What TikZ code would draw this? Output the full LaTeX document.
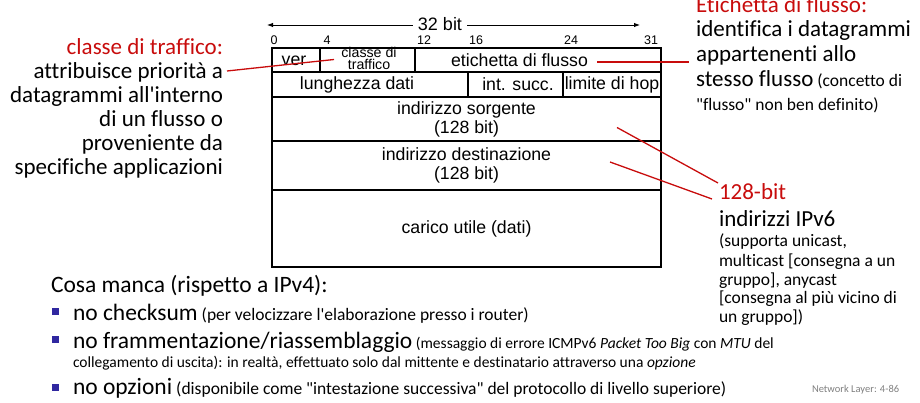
\documentclass[tikz,border=0pt]{standalone}
\usepackage{fontspec}
\newfontfamily\calfnt{Carlito}[Ligatures=NoCommon]
\newfontfamily\arifnt{Liberation Sans}
\usetikzlibrary{arrows.meta}
\definecolor{myred}{RGB}{200,12,12}
\definecolor{bulblue}{RGB}{48,40,160}
\definecolor{fgray}{RGB}{128,128,128}
\tikzset{
  txt/.style={inner sep=0pt, outer sep=0pt},
  big/.style={txt, font=\calfnt\fontsize{23}{24}\selectfont},
  mid/.style={txt, font=\calfnt\fontsize{17.5}{19}\selectfont},
  sml/.style={txt, font=\calfnt\fontsize{15.5}{18}\selectfont},
  cell/.style={draw, line width=1.5pt, inner sep=0pt, outer sep=0pt, align=center,
    font=\arifnt\fontsize{17.7}{19}\selectfont},
  celltxt/.style={txt, align=center, font=\arifnt\fontsize{17.7}{19}\selectfont},
  bitnum/.style={txt, anchor=base, font=\arifnt\fontsize{12.5}{14}\selectfont},
  redline/.style={draw=myred, line width=1.3pt},
  bulletsq/.style={fill=bulblue, draw=none, inner sep=0pt, minimum size=7pt}
}
\begin{document}
\begin{tikzpicture}[x=1pt,y=-1pt]
\useasboundingbox (0,0) rectangle (920,403);

% ---- header: 32 bit arrow and bit numbers
\coordinate (aL) at (267,25);
\coordinate (aR) at (640,25);
\draw[line width=0.9pt, {Latex[length=6pt,width=4.5pt]}-{Latex[length=6pt,width=4.5pt]}] (aL) -- (aR);
\node[txt, fill=white, inner xsep=5pt, inner ysep=1pt, font=\arifnt\fontsize{18}{20}\selectfont] (bits) at (440,24) {32 bit};
\node[bitnum] (b0) at (274,45) {0};
\node[bitnum] (b4) at (327,45) {4};
\node[bitnum] (b12) at (424,45) {12};
\node[bitnum] (b16) at (476,45) {16};
\node[bitnum] (b24) at (571,45) {24};
\node[bitnum] (b31) at (651,45) {31};

% ---- table cells
\node[cell, minimum width=48pt, minimum height=24pt] (ver) at (296,60) {};
\node[celltxt] (vertxt) at (294,60.5) {ver};
\node[cell, minimum width=95pt, minimum height=24pt] (cls) at (367.5,60) {};
\node[txt, align=center, font=\arifnt\fontsize{14.2}{12.5}\selectfont] (clstxt) at (369,58.5) {classe di\\traffico};
\node[cell, minimum width=246pt, minimum height=24pt] (eti) at (538,60) {};
\node[celltxt] (etitxt) at (519.5,60) {etichetta di flusso};
\node[cell, minimum width=196pt, minimum height=25pt] (lun) at (370,84.5) {};
\node[celltxt] (luntxt) at (357,84.5) {lunghezza dati};
\node[cell, minimum width=95pt, minimum height=25pt] (ints) at (515.5,84.5) {};
\node[celltxt] (intstxt) at (518,84.5) {int. succ.};
\node[cell, minimum width=98pt, minimum height=25pt] (lim) at (612,84.5) {limite di hop};
\node[cell, minimum width=389pt, minimum height=44pt] (src) at (466.5,119) {indirizzo sorgente\\(128 bit)};
\node[cell, minimum width=389pt, minimum height=49pt] (dst) at (466.5,165.5) {indirizzo destinazione\\(128 bit)};
\node[cell, minimum width=389pt, minimum height=77pt] (pay) at (466.5,228.5) {carico utile (dati)};

% ---- left annotation
\node[big, anchor=base east, text=myred] (L1) at (223,55) {classe di traffico:};
\node[big, anchor=base east] (L2) at (223,79) {attribuisce priorità a};
\node[big, anchor=base east] (L3) at (223,103) {datagrammi all'interno};
\node[big, anchor=base east] (L4) at (223,127) {di un flusso o};
\node[big, anchor=base east] (L5) at (223,151) {proveniente da};
\node[big, anchor=base east] (L6) at (223,175) {specifiche applicazioni};

% ---- right annotation (flow label)
\node[big, anchor=base west, text=myred] (R1) at (696,13) {Etichetta di flusso:};
\node[big, anchor=base west] (R2) at (696,37) {identifica i datagrammi};
\node[big, anchor=base west] (R3) at (696,62) {appartenenti allo};
\node[big, anchor=base west] (R4) at (696,87) {stesso flusso{\fontsize{17.5}{19}\selectfont{} (concetto di}};
\node[mid, anchor=base west] (R5) at (696,111) {"flusso" non ben definito)};

% ---- 128-bit annotation
\node[big, anchor=base west, text=myred] (B1) at (719,200) {128-bit};
\node[big, anchor=base west] (B2) at (719,226) {indirizzi IPv6};
\node[mid, anchor=base west] (B3) at (719,247) {(supporta unicast,};
\node[mid, anchor=base west] (B4) at (719,266) {multicast [consegna a un};
\node[mid, anchor=base west] (B5) at (719,285) {gruppo], anycast};
\node[mid, anchor=base west] (B6) at (719,303) {[consegna al più vicino di};
\node[mid, anchor=base west] (B7) at (719,322) {un gruppo])};

% ---- red connectors
\coordinate (clsp) at (334,59.5);
\coordinate (clsL) at (227,71);
\draw[redline] (clsL) -- (clsp);
\coordinate (etip) at (597,62);
\coordinate (etiR) at (689,62);
\draw[redline] (etip) -- (etiR);
\coordinate (srcp) at (617,127.5);
\coordinate (srcE) at (718,183);
\draw[redline] (srcp) -- (srcE);
\coordinate (dstp) at (610,162);
\coordinate (dstE) at (712,199);
\draw[redline] (dstp) -- (dstE);

% ---- bottom list
\node[txt, anchor=base west, font=\calfnt\fontsize{23.5}{25}\selectfont] (cm) at (51,292) {Cosa manca (rispetto a IPv4):};
\node[bulletsq] (s1) at (55.5,311) {};
\node[txt, anchor=base west, font=\calfnt\fontsize{23.5}{25}\selectfont] (i1) at (73,320) {no checksum{\fontsize{17.5}{19}\selectfont{} (per velocizzare l'elaborazione presso i router)}};
\node[bulletsq] (s2) at (55.5,339) {};
\node[txt, anchor=base west, font=\calfnt\fontsize{23.5}{25}\selectfont] (i2) at (73,348) {no frammentazione/riassemblaggio{\fontsize{15.5}{18}\selectfont{} (messaggio di errore ICMPv6 \textit{Packet Too Big} con \textit{MTU} del}};
\node[sml, anchor=base west] (i2b) at (73,367) {collegamento di uscita): in realtà, effettuato solo dal mittente e destinatario attraverso una \textit{opzione}};
\node[bulletsq] (s3) at (55.5,387) {};
\node[txt, anchor=base west, font=\calfnt\fontsize{23.5}{25}\selectfont] (i3) at (73,394) {no opzioni{\fontsize{17.5}{19}\selectfont{} (disponibile come "intestazione successiva" del protocollo di livello superiore)}};
\node[txt, anchor=base west, text=fgray, font=\calfnt\fontsize{10.5}{12}\selectfont] (nl) at (812,392) {Network Layer: 4-86};
\end{tikzpicture}
\end{document}
